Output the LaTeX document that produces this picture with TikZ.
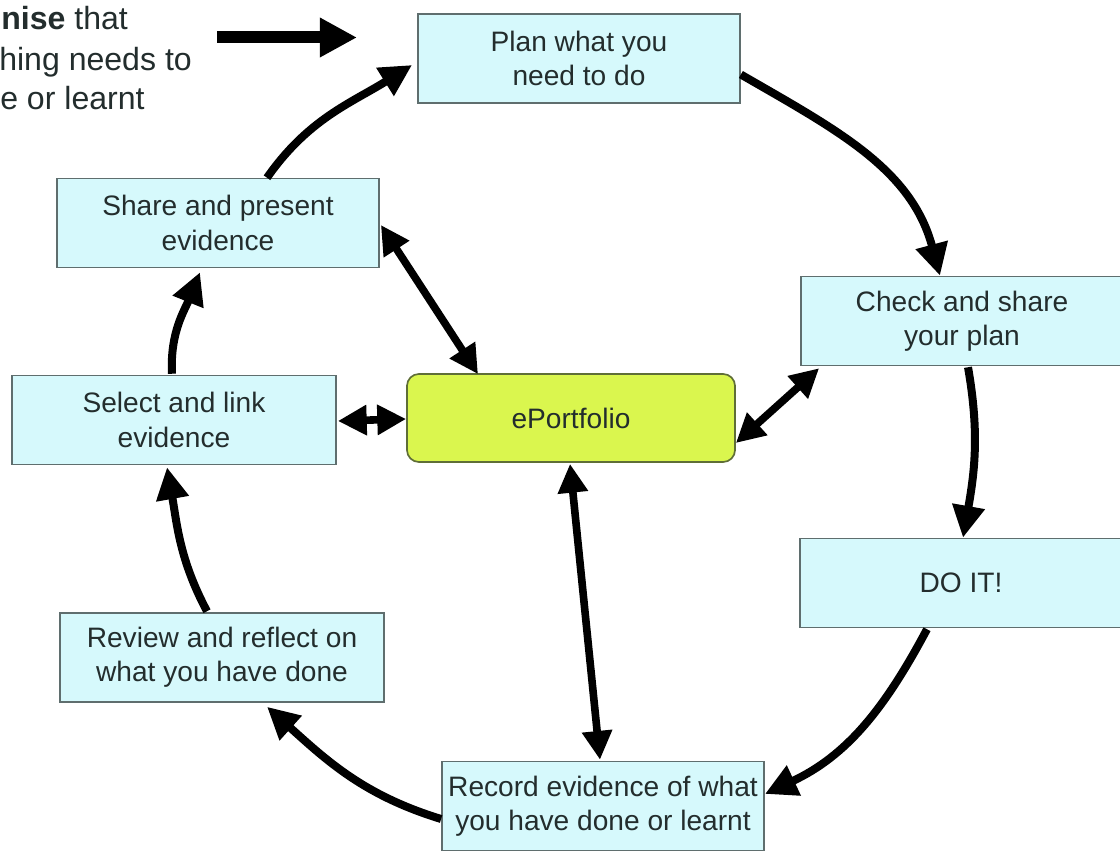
\documentclass[tikz,border=0pt]{standalone}
\usepackage{fontspec}
\setmainfont{Liberation Sans}
\usetikzlibrary{arrows.meta,calc}
\definecolor{boxfill}{RGB}{214,249,252}
\definecolor{boxline}{RGB}{95,110,110}
\definecolor{epfill}{RGB}{218,246,78}
\definecolor{epline}{RGB}{95,110,55}
\definecolor{txt}{RGB}{35,45,45}
\begin{document}
\begin{tikzpicture}[x=0.025cm,y=0.025cm,
  stepbox/.style={draw=boxline, line width=1.2pt, fill=boxfill,
    minimum width=8.05cm, minimum height=2.22cm, inner sep=0pt,
    align=center, text=txt, font=\fontsize{20}{24.5}\selectfont},
  epbox/.style={draw=epline, line width=1.2pt, fill=epfill, rounded corners=0.3cm,
    minimum width=8.2cm, minimum height=2.2cm, inner sep=0pt,
    align=center, text=txt, font=\fontsize{20}{24}\selectfont},
  sidetext/.style={anchor=base west, inner sep=0pt, text=txt,
    font=\fontsize{22.8}{28}\selectfont},
  cyc/.style={line width=0.2cm, -{Triangle[length=0.8cm,width=0.78cm]}},
  dbl/.style={line width=0.19cm, {Triangle[length=0.72cm,width=0.72cm]}-{Triangle[length=0.72cm,width=0.72cm]}},
  bigarrow/.style={line width=0.3cm, -{Triangle[length=0.93cm,width=0.93cm]}}
]
\path[use as bounding box, clip] (0,0) rectangle (1120,850);
\fill[white] (0,0) rectangle (1120,850);

% side text (cropped)
\node[sidetext] (t1) at (1,820) {\textbf{nise} that};
\node[sidetext] (t2) at (-1,779) {hing needs to};
\node[sidetext] (t3) at (0,740) {e or learnt};
\coordinate (ba) at (217,812.5);
\coordinate (bb) at (357,812.5);
\draw[bigarrow] (ba) -- (bb);

% boxes
\node[stepbox] (plan)   at (579,791.5) {Plan what you\\need to do};
\node[stepbox] (share)  at (218,627)   {Share and present\\evidence};
\node[stepbox] (check)  at (962,529)   {Check and share\\your plan};
\node[stepbox, minimum width=8.1cm] (select) at (174,430) {Select and link\\evidence};
\node[epbox]   (eport)  at (571,432)   {ePortfolio};
\node[stepbox] (doit)   at (961,267)   {DO IT!};
\node[stepbox, minimum width=8.1cm] (review) at (222,192.5) {Review and reflect on\\what you have done};
\node[stepbox] (record) at (603,44)    {Record evidence of what\\you have done or learnt};

% cycle arrows
\draw[cyc] ($(plan.east)+(0,-16)$) to[out=-30,in=105] ($(check.north)+(-22,0)$);
\draw[cyc] ($(check.south)+(6,-1)$) to[out=-80,in=80] ($(doit.north)+(2,0)$);
\draw[cyc] ($(doit.south)+(-34,-1)$) to[out=-118,in=25] ($(record.east)+(0,12)$);
\draw[cyc] ($(record.west)+(0,-13)$) to[out=163,in=-42] ($(review.south)+(45,-4)$);
\draw[cyc] ($(review.north)+(-15,1)$) to[out=118,in=-80] ($(select.south)+(-7,-2)$);
\draw[cyc] ($(select.north)+(-2,1)$) to[out=93,in=-112] ($(share.south)+(-18,-4)$);
\draw[cyc] ($(share.north)+(49,0)$) to[out=55,in=-148] ($(plan.west)+(-5,-6.5)$);

% double arrows to ePortfolio
\draw[dbl] ($(share.east)+(1,-2)$) -- ($(eport.north)+(-93,-1)$);
\draw[dbl] ($(select.east)+(1,-1)$) -- ($(eport.west)+(0,-1)$);
\draw[dbl] ($(check.south west)+(19,-2)$) -- ($(eport.east)+(0,-25)$);
\draw[dbl] ($(eport.south)+(-1,-1)$) -- ($(record.north)+(-3,1)$);
\end{tikzpicture}
\end{document}
